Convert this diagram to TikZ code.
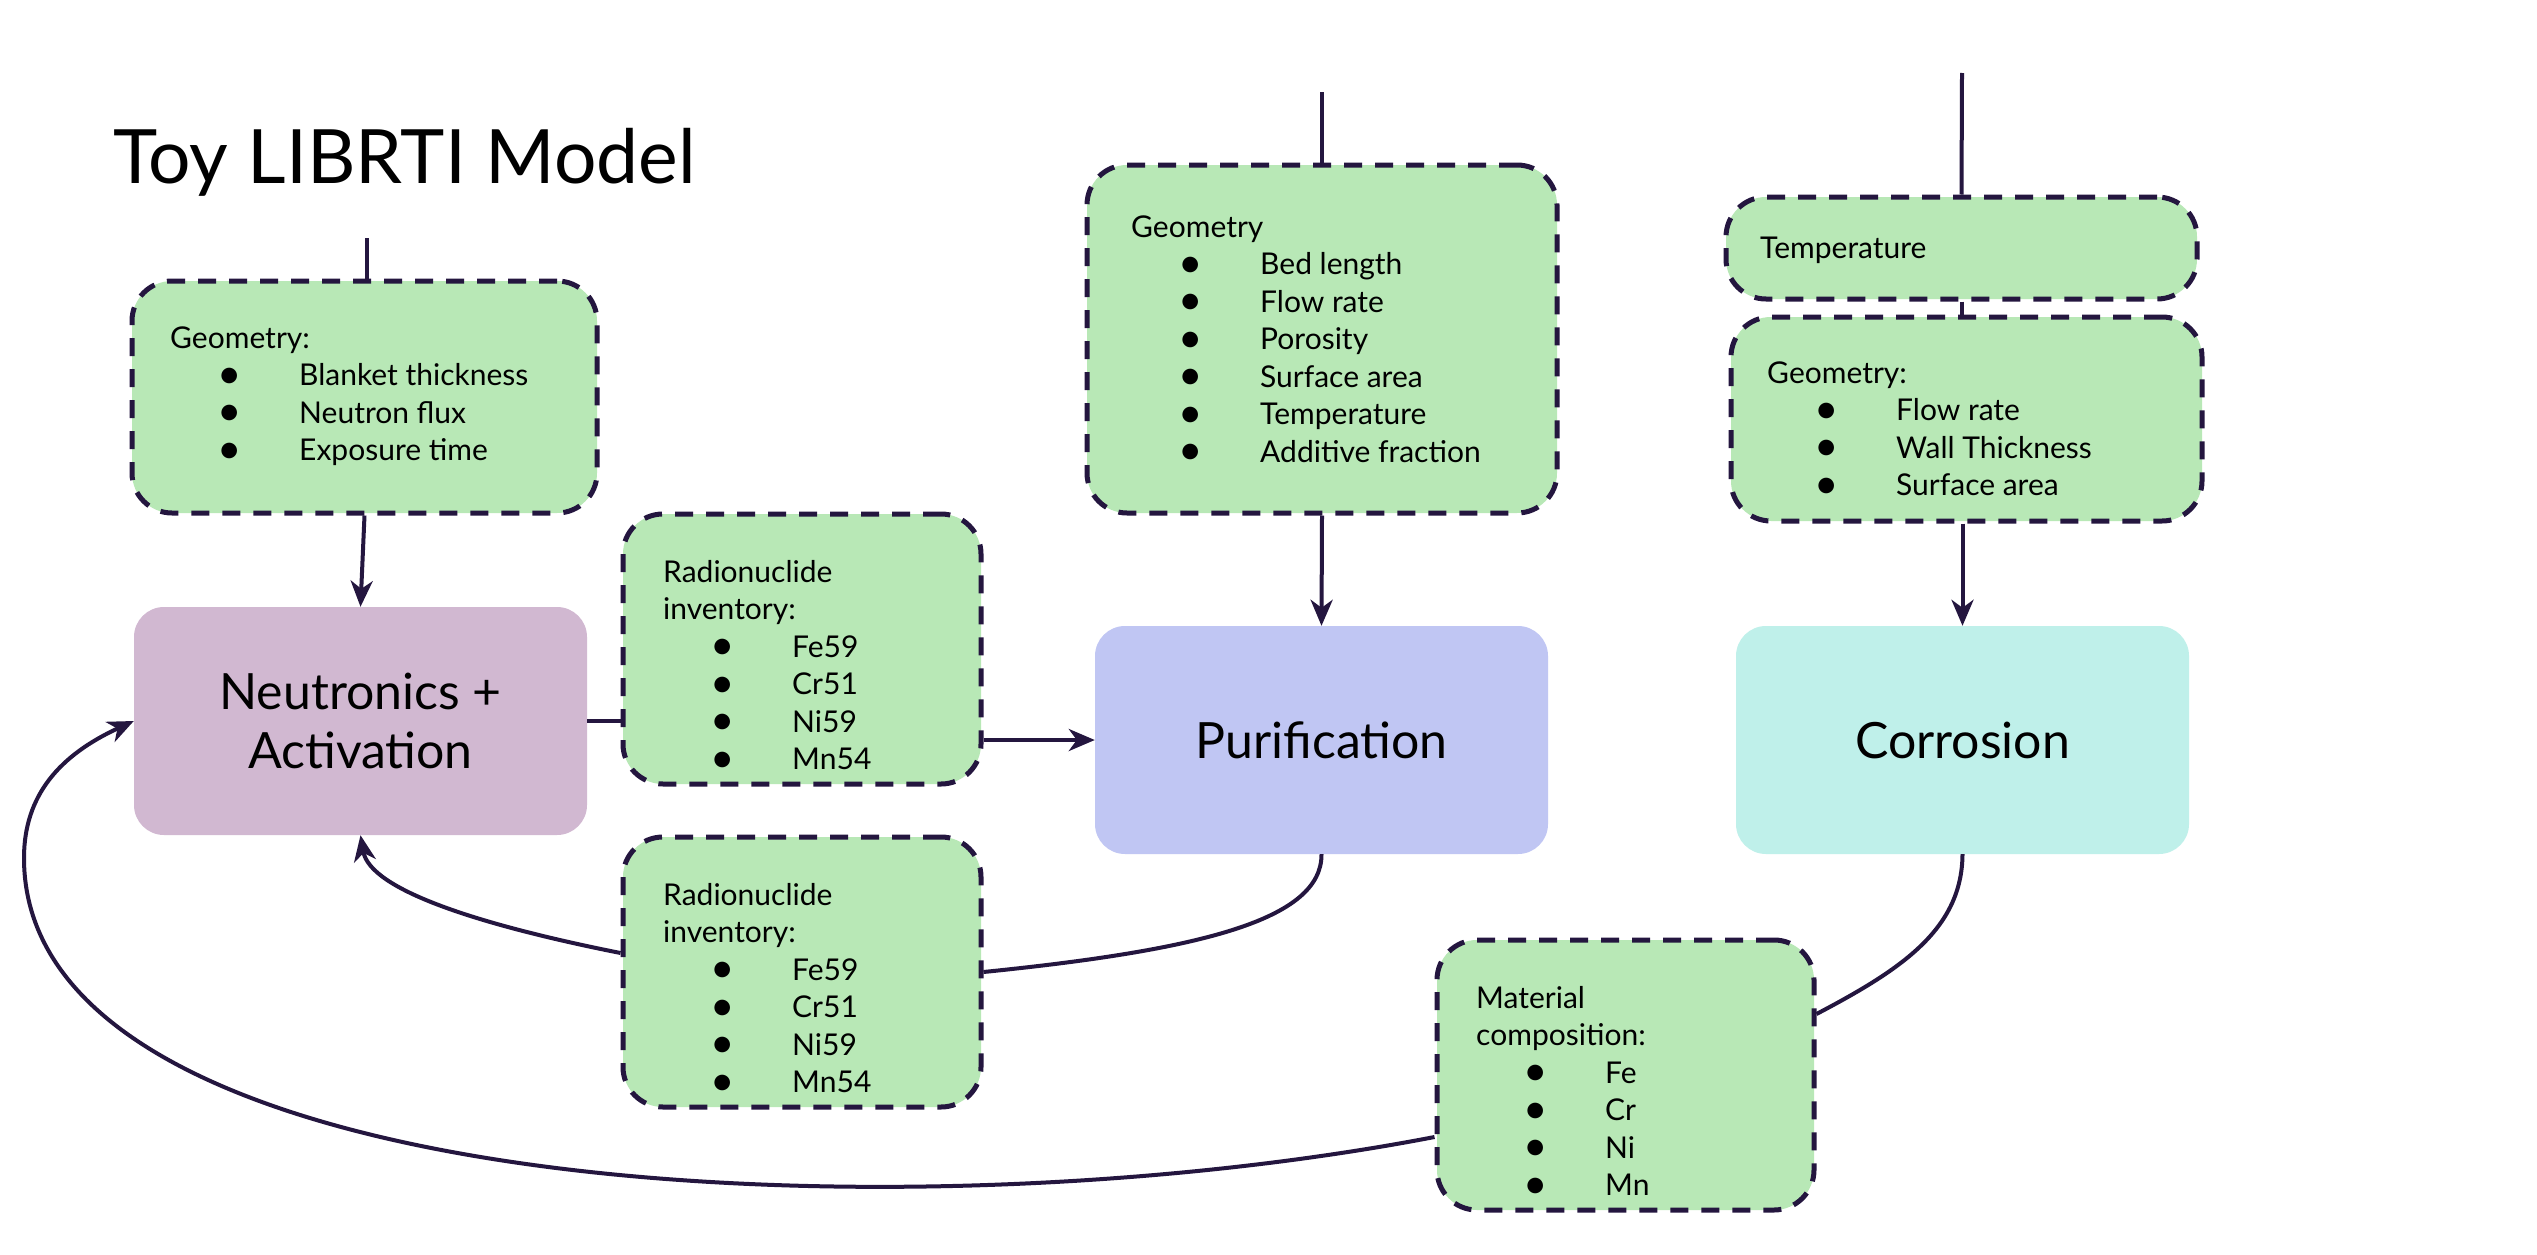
\documentclass[tikz,border=0pt]{standalone}
\usepackage{fontspec}
\setmainfont{Lato}
\usetikzlibrary{arrows.meta,calc}
\definecolor{ln}{HTML}{24163F}
\definecolor{grn}{HTML}{B8E8B6}
\definecolor{lil}{HTML}{D1B8D1}
\definecolor{prp}{HTML}{C0C6F3}
\definecolor{cyn}{HTML}{BFF0EA}
\newcommand{\itm}[1]{\hspace*{47pt}\makebox[82pt][l]{\smash{\raisebox{-2.5pt}{\scalebox{1.4}{\textbullet}}}}#1}
\begin{document}
\begin{tikzpicture}[x=1pt,y=-1pt,
  param/.style={draw=ln, fill=grn, line width=5pt, dash pattern=on 18pt off 13pt, rounded corners=40pt, inner sep=0pt},
  model/.style={rounded corners=30pt, inner sep=0pt, minimum width=453pt, minimum height=228pt, font=\fontsize{50}{59}\selectfont, align=center},
  ptext/.style={anchor=base west, inner sep=0pt, font=\fontsize{30}{37.5}\selectfont},
  conn/.style={draw=ln, line width=4pt},
  arr/.style={conn, -{Stealth[length=26pt,width=22pt,inset=8pt]}}]
\fill[white] (0,0) rectangle (2537,1255);
\useasboundingbox (0,0) rectangle (2537,1255);

\node[anchor=base west, inner sep=0pt, font=\fontsize{75}{90}\selectfont] (title) at (113,183) {Toy LIBRTI Model};

% model boxes
\node[model, fill=lil] (neut) at (360.5,721) {Neutronics +\\Activation};
\node[model, fill=prp] (pur) at (1321.5,740) {Purification};
\node[model, fill=cyn] (cor) at (1962.5,740) {Corrosion};

% parameter boxes
\node[param, minimum width=465pt, minimum height=232pt] (geo1) at (364.5,397) {};
\node[param, minimum width=358pt, minimum height=270pt] (rad1) at (802,649) {};
\node[param, minimum width=358pt, minimum height=270pt] (rad2) at (802,972) {};
\node[param, minimum width=470pt, minimum height=348pt] (geo2) at (1322,339) {};
\node[param, minimum width=471pt, minimum height=102pt] (temp) at (1961.5,248) {};
\node[param, minimum width=471pt, minimum height=204pt] (geo3) at (1966.5,419) {};
\node[param, minimum width=377pt, minimum height=270pt] (mat) at (1625.5,1075) {};

% texts
\node[ptext] (geo1t) at (170,348) {\begin{tabular}[t]{@{}l@{}}Geometry:\\\itm{Blanket thickness}\\\itm{Neutron flux}\\\itm{Exposure time}\end{tabular}};
\node[ptext] (rad1t) at (663,582) {\begin{tabular}[t]{@{}l@{}}Radionuclide\\inventory:\\\itm{Fe59}\\\itm{Cr51}\\\itm{Ni59}\\\itm{Mn54}\end{tabular}};
\node[ptext] (rad2t) at (663,905) {\begin{tabular}[t]{@{}l@{}}Radionuclide\\inventory:\\\itm{Fe59}\\\itm{Cr51}\\\itm{Ni59}\\\itm{Mn54}\end{tabular}};
\node[ptext] (geo2t) at (1131,237) {\begin{tabular}[t]{@{}l@{}}Geometry\\\itm{Bed length}\\\itm{Flow rate}\\\itm{Porosity}\\\itm{Surface area}\\\itm{Temperature}\\\itm{Additive fraction}\end{tabular}};
\node[ptext] (tempt) at (1760,258) {Temperature};
\node[ptext] (geo3t) at (1767,383) {\begin{tabular}[t]{@{}l@{}}Geometry:\\\itm{Flow rate}\\\itm{Wall Thickness}\\\itm{Surface area}\end{tabular}};
\node[ptext] (matt) at (1476,1008) {\begin{tabular}[t]{@{}l@{}}Material\\composition:\\\itm{Fe}\\\itm{Cr}\\\itm{Ni}\\\itm{Mn}\end{tabular}};

% free ends of the input lines
\coordinate (in1) at (367,238);
\coordinate (in2) at (1322,92);
\coordinate (in3) at (1962,73);

% connectors
\draw[conn] (in1) -- (in1 |- geo1.north);
\draw[conn] (in2) -- (geo2.north);
\draw[conn] (in3) -- (temp.north);
\draw[conn] (temp.south) -- (temp.south |- geo3.north);
\draw[arr] (geo1.south) -- (neut.north);
\draw[arr] (geo2.south) -- (pur.north);
\draw[arr] (geo3.south -| cor.north) -- (cor.north);
\draw[conn] (neut.east) -- (neut.east -| rad1.west);
\draw[arr] (rad1.east |- pur.west) -- (pur.west);
\draw[conn] (pur.south) .. controls (1322,920) and (1200,950) .. (rad2.east);
\draw[arr] ($(rad2.west)+(0,-19)$) .. controls (480,925) and (370,890) .. (neut.south);
\draw[conn] (cor.south) .. controls (1962,930) and (1900,970) .. ($(mat.east)+(0,-61)$);
\draw[arr] ($(mat.west)+(0,62)$) .. controls (900,1240) and (24,1200) .. (24,858) .. controls (24,795) and (60,755) .. (neut.west);
\end{tikzpicture}
\end{document}
